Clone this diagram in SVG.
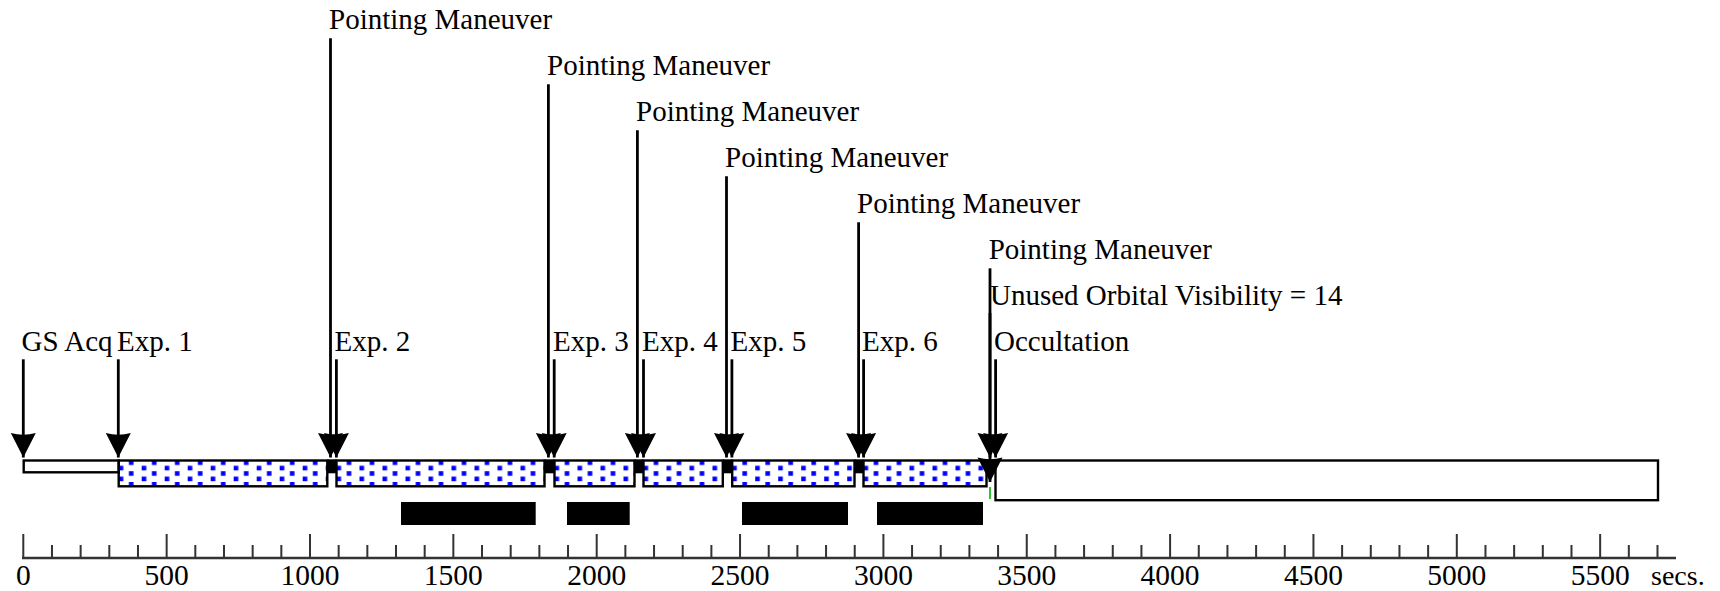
<svg xmlns="http://www.w3.org/2000/svg" width="1720" height="591" viewBox="0 0 1720 591">
<style>
.t{font-family:"Liberation Serif","Times New Roman","DejaVu Serif",serif;font-size:29px;fill:#000}
.tick{font-family:"Liberation Serif","Times New Roman","DejaVu Serif",serif;font-size:29.5px;fill:#000;text-anchor:middle}
.ln{stroke:#000;stroke-width:2.8;fill:none;marker-end:url(#ah)}
.dotbar{fill:url(#dots);stroke:#000;stroke-width:2.4}
.plain{fill:#fff;stroke:#000;stroke-width:2.4}
.blk{fill:#000}
.ax{stroke:#333;fill:none}
</style>
<defs>
<marker id="ah" viewBox="-26 -14 27 28" markerWidth="27" markerHeight="28" refX="0" refY="0" orient="auto" markerUnits="userSpaceOnUse">
<path d="M0,0 L-24.5,-12.5 Q-21,0 -24.5,12.5 Z" fill="#000"/>
</marker>
<pattern id="dots" patternUnits="userSpaceOnUse" x="0" y="460.4" width="23" height="10.8">
<rect x="0" y="5.4" width="4.6" height="4.6" fill="#0000ff"/>
<rect x="10.2" y="0" width="4.6" height="4.6" fill="#0000ff"/>
</pattern>
</defs>
<rect width="1720" height="591" fill="#fff"/>

<g id="bars">
<g id="bar-gsacq"><rect class="plain" x="23.7" y="460.5" width="95" height="11.8"/></g>
<g id="bar-exp1" transform="translate(118.7,0)"><rect class="dotbar" x="0" y="460.5" width="208.6" height="25.8"/></g>
<g id="bar-exp2" transform="translate(336.5,0)"><rect class="dotbar" x="0" y="460.5" width="208" height="25.8"/></g>
<g id="bar-exp3" transform="translate(554.5,0)"><rect class="dotbar" x="0" y="460.5" width="80" height="25.8"/></g>
<g id="bar-exp4" transform="translate(643.5,0)"><rect class="dotbar" x="0" y="460.5" width="79.3" height="25.8"/></g>
<g id="bar-exp5" transform="translate(732.2,0)"><rect class="dotbar" x="0" y="460.5" width="122.3" height="25.8"/></g>
<g id="bar-exp6" transform="translate(863.5,0)"><rect class="dotbar" x="0" y="460.5" width="123" height="25.8"/></g>
<g id="bar-occultation"><rect class="plain" x="995.5" y="460.5" width="662.5" height="39.7"/></g>
<g id="gaps">
<rect class="blk" x="327.3" y="459.3" width="9.2" height="14"/>
<rect class="blk" x="544.5" y="459.3" width="10" height="14"/>
<rect class="blk" x="634.5" y="459.3" width="9" height="14"/>
<rect class="blk" x="722.8" y="459.3" width="9.4" height="14"/>
<rect class="blk" x="854.5" y="459.3" width="9" height="14"/>
<rect class="blk" x="986.5" y="459.3" width="9" height="14"/>
</g>
<line x1="990" y1="487" x2="990" y2="499" stroke="#00b000" stroke-width="1.6"/>
</g>

<g id="busy">
<rect class="blk" x="401" y="502" width="134.7" height="23"/>
<rect class="blk" x="567" y="502" width="62.7" height="23"/>
<rect class="blk" x="742" y="502" width="106" height="23"/>
<rect class="blk" x="877" y="502" width="106" height="23"/>
</g>

<g id="connectors">
<line class="ln" x1="23.3" y1="359.3" x2="23.3" y2="457.5"/>
<line class="ln" x1="118.3" y1="359.3" x2="118.3" y2="457.5"/>
<line class="ln" x1="330.5" y1="38.3" x2="330.5" y2="457.5"/>
<line class="ln" x1="336.4" y1="359.3" x2="336.4" y2="457.5"/>
<line class="ln" x1="548.4" y1="84.3" x2="548.4" y2="457.5"/>
<line class="ln" x1="554.2" y1="359.3" x2="554.2" y2="457.5"/>
<line class="ln" x1="637.4" y1="130.3" x2="637.4" y2="457.5"/>
<line class="ln" x1="643.5" y1="359.3" x2="643.5" y2="457.5"/>
<line class="ln" x1="726.5" y1="176.3" x2="726.5" y2="457.5"/>
<line class="ln" x1="731.9" y1="359.3" x2="731.9" y2="457.5"/>
<line class="ln" x1="858.6" y1="222.3" x2="858.6" y2="457.5"/>
<line class="ln" x1="863.6" y1="359.3" x2="863.6" y2="457.5"/>
<line class="ln" x1="990" y1="313" x2="990" y2="482"/>
<line class="ln" x1="990" y1="268.3" x2="990" y2="457.5"/>
<line class="ln" x1="995.6" y1="359.3" x2="995.6" y2="457.5"/>
</g>

<g id="ev-pm1"><text class="t" x="329" y="29.3">Pointing Maneuver</text></g>
<g id="ev-pm2"><text class="t" x="547" y="75.3">Pointing Maneuver</text></g>
<g id="ev-pm3"><text class="t" x="636" y="121.3">Pointing Maneuver</text></g>
<g id="ev-pm4"><text class="t" x="725" y="167.3">Pointing Maneuver</text></g>
<g id="ev-pm5"><text class="t" x="857" y="213.3">Pointing Maneuver</text></g>
<g id="ev-pm6"><text class="t" x="988.7" y="259.3">Pointing Maneuver</text></g>
<g id="ev-unused"><text class="t" x="990" y="305">Unused Orbital Visibility = 14</text></g>
<g id="ev-gsacq"><text class="t" x="21.5" y="350.7">GS Acq</text></g>
<g id="ev-exp1"><text class="t" x="117" y="350.7">Exp. 1</text></g>
<g id="ev-exp2"><text class="t" x="334.5" y="350.7">Exp. 2</text></g>
<g id="ev-exp3"><text class="t" x="553" y="350.7">Exp. 3</text></g>
<g id="ev-exp4"><text class="t" x="642" y="350.7">Exp. 4</text></g>
<g id="ev-exp5"><text class="t" x="730.5" y="350.7">Exp. 5</text></g>
<g id="ev-exp6"><text class="t" x="862" y="350.7">Exp. 6</text></g>
<g id="ev-occultation"><text class="t" x="994" y="350.7">Occultation</text></g>

<g id="axis">
<line class="ax" x1="22" y1="558" x2="1676" y2="558" stroke-width="2.6"/>
<path class="ax" stroke-width="2" d="M23.3 534V558M166.65 534V558M310 534V558M453.35 534V558M596.7 534V558M740.05 534V558M883.4 534V558M1026.75 534V558M1170.1 534V558M1313.45 534V558M1456.8 534V558M1600.15 534V558"/>
<path class="ax" stroke-width="2" d="M51.97 545V558M80.64 545V558M109.31 545V558M137.98 545V558M195.32 545V558M223.99 545V558M252.66 545V558M281.33 545V558M338.67 545V558M367.34 545V558M396.01 545V558M424.68 545V558M482.02 545V558M510.69 545V558M539.36 545V558M568.03 545V558M625.37 545V558M654.04 545V558M682.71 545V558M711.38 545V558M768.72 545V558M797.39 545V558M826.06 545V558M854.73 545V558M912.07 545V558M940.74 545V558M969.41 545V558M998.08 545V558M1055.42 545V558M1084.09 545V558M1112.76 545V558M1141.43 545V558M1198.77 545V558M1227.44 545V558M1256.11 545V558M1284.78 545V558M1342.12 545V558M1370.79 545V558M1399.46 545V558M1428.13 545V558M1485.47 545V558M1514.14 545V558M1542.81 545V558M1571.48 545V558M1628.82 545V558M1657.49 545V558"/>
<text class="tick" x="23.3" y="584.5">0</text>
<text class="tick" x="166.65" y="584.5">500</text>
<text class="tick" x="310" y="584.5">1000</text>
<text class="tick" x="453.35" y="584.5">1500</text>
<text class="tick" x="596.7" y="584.5">2000</text>
<text class="tick" x="740.05" y="584.5">2500</text>
<text class="tick" x="883.4" y="584.5">3000</text>
<text class="tick" x="1026.75" y="584.5">3500</text>
<text class="tick" x="1170.1" y="584.5">4000</text>
<text class="tick" x="1313.45" y="584.5">4500</text>
<text class="tick" x="1456.8" y="584.5">5000</text>
<text class="tick" x="1600.15" y="584.5">5500</text>
<text class="t" x="1651" y="584.5" style="font-size:28px">secs.</text>
</g>
</svg>
